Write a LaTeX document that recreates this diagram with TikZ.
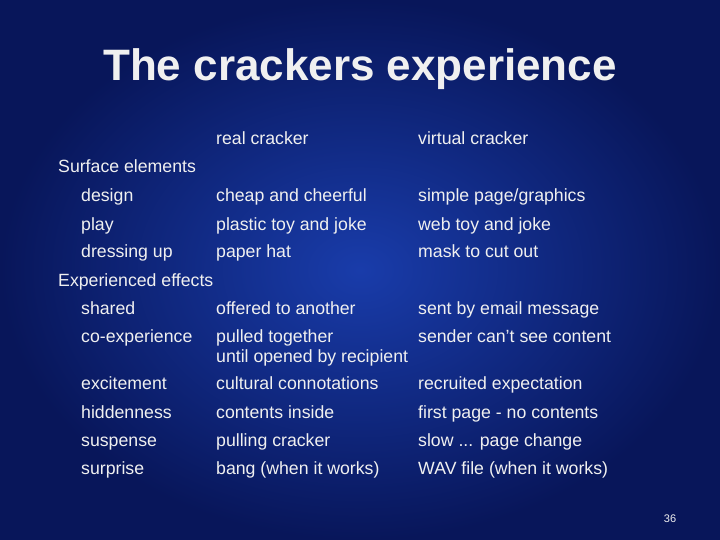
\documentclass[tikz,border=0pt]{standalone}
\usepackage{fontspec}
\setmainfont{Liberation Sans}
\definecolor{slidedark}{RGB}{8,22,90}
\definecolor{slidelight}{RGB}{25,60,170}
\definecolor{slidetext}{RGB}{240,240,240}
\newcommand{\slowtext}{slow ... page change}
\tikzset{
  body/.style={anchor=base west, inner sep=0pt, text=slidetext, font=\fontsize{17.7}{19}\selectfont}
}

\begin{document}
\begin{tikzpicture}[x=1pt,y=-1pt]
  % Background
  \shade[inner color=slidelight, outer color=slidedark] (0,0) rectangle (720,540);
  \useasboundingbox (0,0) rectangle (720,540);

  % Title
  \node[text=slidetext, font=\fontsize{44}{48}\selectfont\bfseries] (title) at (360,69) {The crackers experience};

  % Column headers
  \node[body] (hreal) at (216,145) {real cracker};
  \node[body] (hvirt) at (418,145) {virtual cracker};

  % Sections
  \node[body] (surface) at (58,173) {Surface elements};
  \node[body] (effects) at (58,286) {Experienced effects};

  % Rows
  \foreach \y/\a/\b/\c [count=\i] in {
      202/design/cheap and cheerful/simple page\slash graphics,
      230/play/plastic toy and joke/web toy and joke,
      258/dressing up/paper hat/mask to cut out,
      314/shared/offered to another/sent by email message,
      342/co-experience/pulled together/sender can\symbol{39}t see content,
      389/excitement/cultural connotations/recruited expectation,
      418/hiddenness/contents inside/first page - no contents,
      446/suspense/pulling cracker/\slowtext,
      474/surprise/bang (when it works)/WAV file (when it works)} {
    \node[body] (name\i) at (81,\y) {\a};
    \node[body] (real\i) at (216,\y) {\b};
    \node[body] (virt\i) at (418,\y) {\c};
  }
  \node[body] (cont) at (216,362) {until opened by recipient};

  % Page number
  \node[text=slidetext, font=\fontsize{11}{12}\selectfont] (page) at (670,519) {36};
\end{tikzpicture}
\end{document}
